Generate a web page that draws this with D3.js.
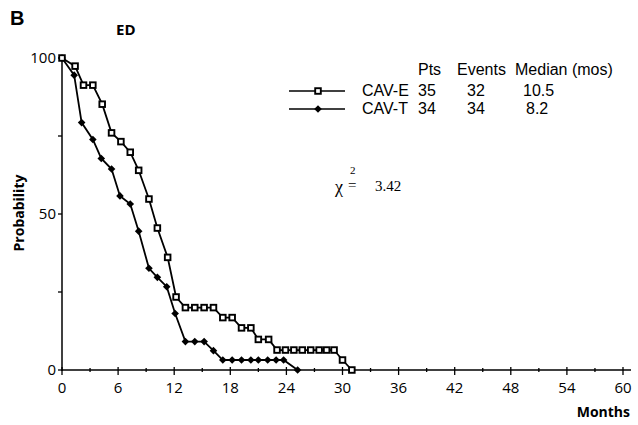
<!DOCTYPE html>
<html><head><meta charset="utf-8">
<script src="https://cdn.jsdelivr.net/npm/d3@7"></script>
<style>body{margin:0;background:#fff}svg{display:block;font-family:"Open Sans",sans-serif}text{fill:#000}</style>
</head><body><svg id="c" width="638" height="425"></svg>
<script>
const cavE_months = [0,1.4,2.3,3.3,4.3,5.3,6.3,7.3,8.2,9.3,10.2,11.3,12.2,13.2,14.2,15.2,16.2,17.2,18.2,19.2,20.2,21,22.1,23,23.9,24.8,25.7,26.6,27.5,28.3,29.1,30,31];
const cavE_prob   = [100,97.4,91.3,91.3,85.2,76,73.2,69.8,64,54.8,45.5,36.1,23.4,20,20,20,20,16.8,16.8,13.5,13.5,9.8,9.8,6.4,6.4,6.4,6.4,6.4,6.4,6.4,6.4,3.2,0];
const cavT_months = [0,1.3,2.1,3.3,4.2,5.3,6.2,7.3,8.2,9.3,10.2,11.2,12.1,13.2,14.2,15.2,16.2,17.2,18.2,19.2,20.2,21,22,22.9,23.7,25.2];
const cavT_prob   = [100,94.5,79.3,73.9,67.8,64.4,55.8,53.2,44.5,32.6,29.7,26.7,18.1,9.1,9.1,9.1,6.2,3.2,3.2,3.2,3.2,3.2,3.2,3.2,3.2,0];
const xTicks = [0,6,12,18,24,30,36,42,48,54,60];
const yTicks = [0,50,100];
const legendHeader = ["Pts","Events","Median (mos)"];
const legendRows = [
  {name:"CAV-E", pts:"35", events:"32", median:"10.5", marker:"square"},
  {name:"CAV-T", pts:"34", events:"34", median:"8.2", marker:"diamond"}
];
const chiValue = "3.42";

const svg = d3.select("#c");
const x = d3.scaleLinear().domain([0,60]).range([62,623]);
const y = d3.scaleLinear().domain([0,100]).range([370,58]);

// axes
const xAxis = svg.append("g");
xAxis.append("line").attr("x1",x(0)).attr("x2",631).attr("y1",y(0)).attr("y2",y(0)).attr("stroke","#000").attr("stroke-width",1.5);
d3.range(0,61,3).forEach(v=>{
  const major = v%6===0;
  xAxis.append("line").attr("x1",x(v)).attr("x2",x(v)).attr("y1",y(0)-(major?3:2)).attr("y2",y(0)+(major?5:2)).attr("stroke","#000").attr("stroke-width",1.3);
});
xTicks.forEach(v=>{
  xAxis.append("text").attr("x",x(v)).attr("y",393).attr("text-anchor","middle").style("font-size","15px").text(v);
});
const yAxis = svg.append("g");
yAxis.append("line").attr("x1",x(0)).attr("x2",x(0)).attr("y1",y(0)+1).attr("y2",y(100)).attr("stroke","#000").attr("stroke-width",1.5);
d3.range(0,101,25).forEach(v=>{
  yAxis.append("line").attr("x1",x(0)-4).attr("x2",x(0)).attr("y1",y(v)).attr("y2",y(v)).attr("stroke","#000").attr("stroke-width",1.3);
});
yTicks.forEach(v=>{
  yAxis.append("text").attr("x",x(0)-6).attr("y",y(v)+5).attr("text-anchor","end").style("font-size","15px").text(v);
});

// labels
svg.append("text").attr("x",10).attr("y",25).style("font-size","20px").style("font-weight","bold").style("font-family","Liberation Sans, Arial, sans-serif").text("B");
svg.append("text").attr("x",116).attr("y",35).style("font-size","15px").style("font-weight","bold").text("ED");
svg.append("text").attr("transform","translate(24,213) rotate(-90)").attr("text-anchor","middle").style("font-size","14px").style("font-weight","bold").text("Probability");
svg.append("text").attr("x",630).attr("y",417).attr("text-anchor","end").style("font-size","14px").style("font-weight","bold").text("Months");

// curves
const line = d3.line().x(d=>x(d[0])).y(d=>y(d[1]));
const dataE = cavE_months.map((m,i)=>[m,cavE_prob[i]]);
const dataT = cavT_months.map((m,i)=>[m,cavT_prob[i]]);
svg.append("path").datum(dataT).attr("d",line).attr("fill","none").attr("stroke","#000").attr("stroke-width",1.8);
svg.append("path").datum(dataE).attr("d",line).attr("fill","none").attr("stroke","#000").attr("stroke-width",1.8);

function square(g,cx,cy){
  g.append("rect").attr("x",cx-2.8).attr("y",cy-2.8).attr("width",5.6).attr("height",5.6).attr("fill","#fff").attr("stroke","#000").attr("stroke-width",1.9);
}
function diamond(g,cx,cy){
  g.append("path").attr("d",`M${cx},${cy-3.8}L${cx+3.8},${cy}L${cx},${cy+3.8}L${cx-3.8},${cy}Z`).attr("fill","#000");
}
const mk = svg.append("g");
dataT.forEach(d=>diamond(mk,x(d[0]),y(d[1])));
dataE.forEach(d=>square(mk,x(d[0]),y(d[1])));

// legend
const lg = svg.append("g");
const lt = (xx,yy,t)=>lg.append("text").attr("x",xx).attr("y",yy).style("font-size","16px").style("font-family","Liberation Sans, Arial, sans-serif").text(t);
const cols = [418,457,515];
legendHeader.forEach((h,i)=>lt(cols[i],75,h));
legendRows.forEach((r,i)=>{
  const yy = 91 + i*18;
  lg.append("line").attr("x1",289).attr("x2",345).attr("y1",yy).attr("y2",yy).attr("stroke","#000").attr("stroke-width",1.6);
  if(r.marker==="square") square(lg,318,yy); else diamond(lg,318,yy);
  lt(362,yy+5,r.name);
  lt(418,yy+5,r.pts);
  lt(467,yy+5,r.events);
  lt(r.median.length>3?523:526,yy+5,r.median);
});

// chi-square
const chi = svg.append("g");
const ct = (xx,yy,fs,t)=>chi.append("text").attr("x",xx).attr("y",yy).style("font-size",fs).style("font-family","Liberation Serif, Times New Roman, serif").text(t);
ct(335,193,"18px","χ");
ct(350,174,"11px","2");
ct(348,190,"15px","=");
ct(375,191,"15px",chiValue);
</script></body></html>
